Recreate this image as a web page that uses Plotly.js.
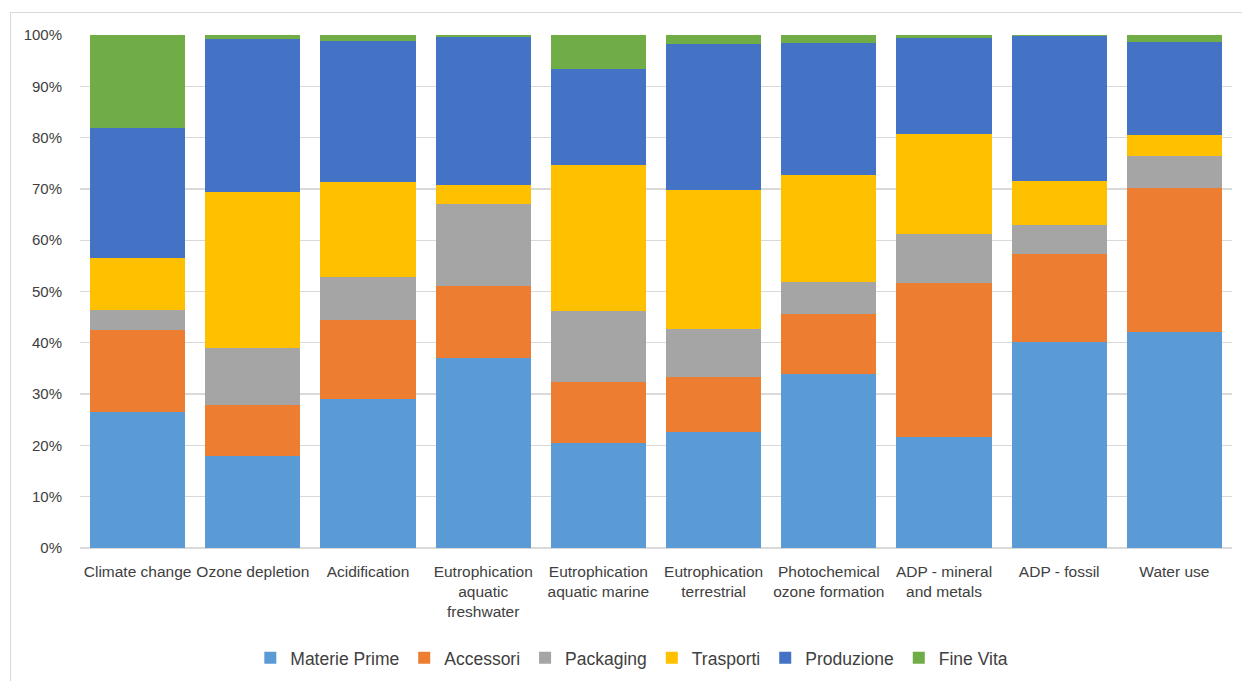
<!DOCTYPE html>
<html>
<head>
<meta charset="utf-8">
<script src="https://cdn.plot.ly/plotly-3.0.1.min.js"></script>
<style>
  html, body { margin: 0; padding: 0; background: #fff; }
  #frame { position: absolute; left: 10px; top: 12px; width: 1240px; height: 680px; border: 1px solid #d9d9d9; box-sizing: border-box; }
  #chart { position: absolute; left: 0; top: 0; width: 1242px; height: 681px; }
</style>
</head>
<body>
<div id="frame"></div>
<div id="chart"></div>
<script>
const categories = [
  "Climate change",
  "Ozone depletion",
  "Acidification",
  "Eutrophication<br>aquatic<br>freshwater",
  "Eutrophication<br>aquatic marine",
  "Eutrophication<br>terrestrial",
  "Photochemical<br>ozone formation",
  "ADP - mineral<br>and metals",
  "ADP - fossil",
  "Water use"
];
const materiePrime = [26.6, 18.0, 29.0, 37.1, 20.4, 22.7, 33.9, 21.7, 40.2, 42.2];
const accessori    = [15.8,  9.9, 15.4, 14.0, 11.9, 10.6, 11.7, 30.0, 17.1, 28.0];
const packaging    = [ 4.0, 11.1,  8.4, 16.0, 13.9,  9.4,  6.3,  9.6,  5.7,  6.3];
const trasporti    = [10.1, 30.4, 18.5,  3.7, 28.5, 27.1, 20.9, 19.4,  8.5,  4.0];
const produzione   = [25.4, 29.8, 27.6, 28.9, 18.7, 28.4, 25.6, 18.8, 28.3, 18.1];
const fineVita     = [18.1,  0.8,  1.1,  0.3,  6.6,  1.8,  1.6,  0.5,  0.2,  1.4];

const seriesNames = ["Materie Prime", "Accessori", "Packaging", "Trasporti", "Produzione", "Fine Vita"];
const seriesValues = [materiePrime, accessori, packaging, trasporti, produzione, fineVita];
const seriesColors = ["#5B9BD5", "#ED7D31", "#A5A5A5", "#FFC000", "#4472C4", "#70AD47"];

const FONT = "'Liberation Sans', Arial, sans-serif";

const traces = seriesNames.map((name, i) => ({
  type: "bar",
  name: name,
  x: categories,
  y: seriesValues[i],
  marker: { color: seriesColors[i], line: { width: 0 } },
  hoverinfo: "skip"
}));

const layout = {
  width: 1242,
  height: 681,
  barmode: "stack",
  bargap: 0.175,
  paper_bgcolor: "rgba(0,0,0,0)",
  plot_bgcolor: "rgba(0,0,0,0)",
  margin: { l: 80, r: 10, t: 35, b: 133, pad: 0, autoexpand: false },
  font: { family: FONT, size: 15.5, color: "#404040" },
  xaxis: {
    type: "category",
    automargin: false,
    showgrid: false,
    showline: false,
    ticks: "outside",
    ticklen: 9,
    tickcolor: "rgba(0,0,0,0)",
    tickfont: { family: FONT, size: 15.5, color: "#404040" },
    tickangle: 0,
    fixedrange: true
  },
  yaxis: {
    range: [0, 100],
    dtick: 10,
    ticksuffix: "%",
    automargin: false,
    showgrid: true,
    gridcolor: "#d9d9d9",
    gridwidth: 1.3,
    zeroline: true,
    zerolinecolor: "#d9d9d9",
    zerolinewidth: 1.3,
    showline: false,
    ticks: "outside",
    ticklen: 14,
    tickcolor: "rgba(0,0,0,0)",
    tickfont: { family: FONT, size: 15, color: "#404040" },
    fixedrange: true
  },
  showlegend: true,
  legend: {
    orientation: "h",
    x: 0.479,
    xanchor: "center",
    yref: "container",
    y: 0.034,
    yanchor: "middle",
    font: { family: FONT, size: 17.5, color: "#404040" },
    traceorder: "normal",
    itemwidth: 30
  }
};

Plotly.newPlot("chart", traces, layout, { staticPlot: true, displayModeBar: false });
</script>
</body>
</html>
